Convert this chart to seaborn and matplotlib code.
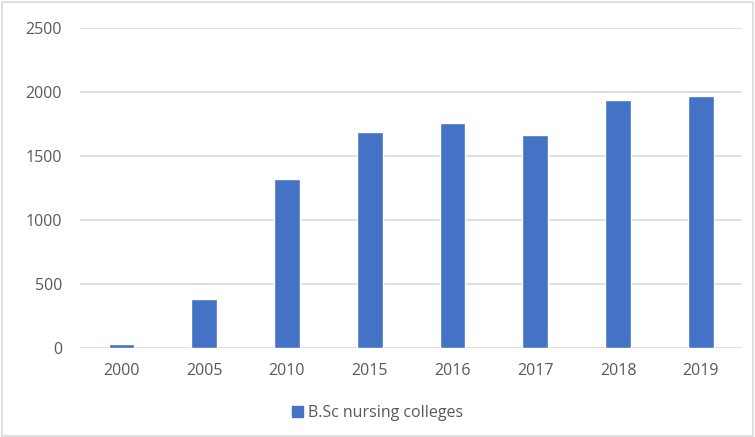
import matplotlib
matplotlib.use("Agg")
import matplotlib.pyplot as plt
import seaborn as sns
import pandas as pd
from matplotlib.patches import Rectangle, Patch

years = ["2000", "2005", "2010", "2015", "2016", "2017", "2018", "2019"]
colleges = [30, 378, 1322, 1690, 1756, 1667, 1936, 1969]
series_name = "B.Sc nursing colleges"
yticks = [0, 500, 1000, 1500, 2000, 2500]

df = pd.DataFrame({"year": years, "count": colleges})

sns.set_theme(style="white")
plt.rcParams["font.family"] = ["Open Sans", "DejaVu Sans"]

fig = plt.figure(figsize=(7.55, 4.37), dpi=100)
ax = fig.add_axes([0.106, 0.204, 0.877, 0.732])
sns.barplot(data=df, x="year", y="count", color="#4472C4", width=0.31,
            saturation=1, ax=ax, zorder=3)
ax.set_ylim(0, 2500)
ax.set_yticks(yticks)
ax.grid(axis="y", color="#D9D9D9", linewidth=1.2, zorder=0)
for s in ax.spines.values():
    s.set_visible(False)
ax.set_xlabel("")
ax.set_ylabel("")
ax.tick_params(axis="both", length=0, labelsize=11.5, labelcolor="#595959")
ax.tick_params(axis="x", pad=11)
ax.tick_params(axis="y", pad=13)

fig.legend(handles=[Patch(color="#4472C4", label=series_name)],
           loc="center", bbox_to_anchor=(0.5, 0.055), frameon=False,
           fontsize=11.5, labelcolor="#595959", handlelength=0.7,
           handleheight=0.7, handletextpad=0.3)

fig.patches.append(Rectangle((0.002, 0.003), 0.995, 0.992, transform=fig.transFigure,
                             fill=False, edgecolor="#D9D9D9", linewidth=1.2))
fig.savefig("out.png", dpi=100)
